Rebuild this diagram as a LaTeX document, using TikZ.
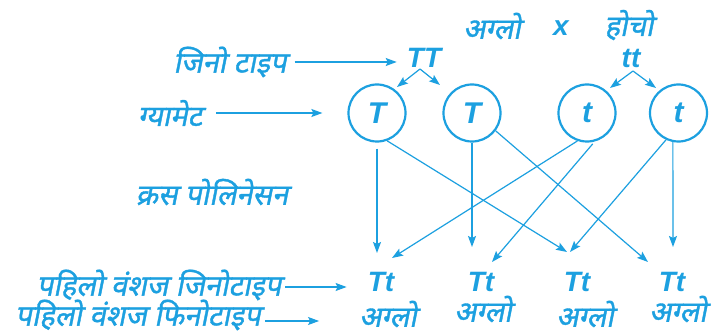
\documentclass[tikz,border=0pt]{standalone}
\usepackage{fontspec}
\newfontfamily\devfont[Script=Devanagari,FakeSlant=0.2,FakeBold=1.2]{Noto Sans}
\newfontfamily\latfont{Liberation Sans}
\usetikzlibrary{arrows.meta}
\definecolor{inkblue}{RGB}{28,160,224}

\begin{document}
\begin{tikzpicture}[x=1pt,y=-1pt,
  dev/.style={text=inkblue,font=\devfont\fontsize{29}{31}\selectfont,inner sep=0pt},
  gene/.style={text=inkblue,font=\latfont\bfseries\itshape\fontsize{28}{30}\selectfont,inner sep=0pt},
  gamete/.style={circle,draw=inkblue,line width=2.2pt,minimum size=57pt,inner sep=0pt,
    text=inkblue,font=\latfont\bfseries\itshape\fontsize{30}{32}\selectfont},
  arr/.style={draw=inkblue,line width=1.2pt,-{Stealth[length=11pt,width=8pt,inset=2pt]}},
]
\useasboundingbox (0,0) rectangle (715,334);
\fill[white] (0,0) rectangle (715,334);

% parents
\node[dev]  (pAglo)  at (492,26) {अग्लो};
\node[gene] (cross)  at (561,28) {x};
\node[dev]  (pHocho) at (629,25) {होचो};

% genotype row
\node[dev]  (lGeno) at (230,62) {जिनो टाइप};
\node[gene] (TT) at (424,58) {TT};
\node[gene] (tt) at (631,58) {tt};
\draw[arr] ([xshift=8pt]lGeno.east) -- ([xshift=-10pt]lGeno.east -| TT.west);

% gametes
\node[dev] (lGam) at (170,113) {ग्यामेट};
\node[gamete] (g1) at (377,113) {T};
\node[gamete] (g2) at (472,113) {T};
\node[gamete] (g3) at (587,113) {t};
\node[gamete] (g4) at (678.5,113) {t};
\draw[arr] ([xshift=14pt]lGam.east) -- ([xshift=-25pt]lGam.east -| g1.west);

% splitting of the parents into gametes
\coordinate (TTfork) at (420,69);
\coordinate (TTl) at (397,87);
\coordinate (TTr) at (440,85);
\coordinate (ttfork) at (633,71);
\coordinate (ttl) at (610,88);
\coordinate (ttr) at (656,88);
\draw[arr] (TTfork) -- (TTl);
\draw[arr] (TTfork) -- (TTr);
\draw[arr] (ttfork) -- (ttl);
\draw[arr] (ttfork) -- (ttr);

\node[dev] (lCross) at (212,192) {क्रस पोलिनेसन};

% first generation
\node[gene] (f1) at (381,282) {Tt};
\node[gene] (f2) at (481,282) {Tt};
\node[gene] (f3) at (577,282) {Tt};
\node[gene] (f4) at (672,282) {Tt};
\node[dev] (p1) at (388,314) {अग्लो};
\node[dev] (p2) at (483,309) {अग्लो};
\node[dev] (p3) at (585,314) {अग्लो};
\node[dev] (p4) at (678,309) {अग्लो};

\node[dev] (lF1g) at (159,285) {पहिलो वंशज जिनोटाइप};
\node[dev] (lF1p) at (138,315) {पहिलो वंशज फिनोटाइप};
\draw[arr] ([xshift=4pt,yshift=-2pt]lF1g.east) -- ([xshift=-21pt,yshift=-2pt]lF1g.east -| f1.west);
\draw[arr] ([xshift=4pt,yshift=-6pt]lF1p.east) -- ([xshift=-40pt,yshift=-6pt]lF1p.east -| p1.west);

% pollination arrows
\coordinate (e1v) at (377,253);
\coordinate (e2v) at (472,247);
\coordinate (e4v) at (673,247);
\coordinate (e13) at (567,252);
\coordinate (e43) at (570,252);
\coordinate (e24) at (648,262);
\coordinate (e31) at (392,258);
\coordinate (e32) at (492,262);
\draw[arr,shorten <=6pt] (g1.south) -- (e1v);
\draw[arr] (g2.south) -- (e2v);
\draw[arr] (g4.-101) -- (e4v);
\draw[arr] (g1.-70) -- (e13);
\draw[arr] (g2.-37) -- (e24);
\draw[arr] (g3.-109) -- (e31);
\draw[arr,shorten <=3pt] (g3.-75) -- (e32);
\draw[arr] (g4.-115) -- (e43);
\end{tikzpicture}
\end{document}
